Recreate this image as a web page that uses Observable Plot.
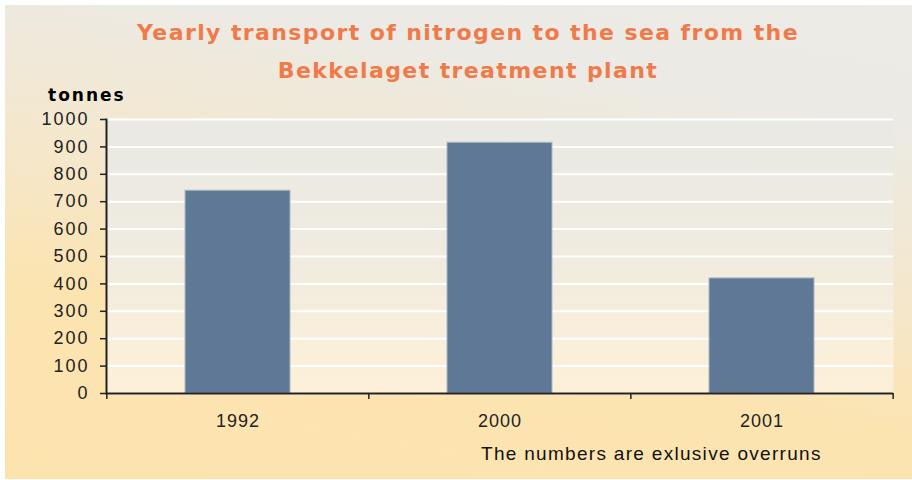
<!DOCTYPE html>
<html>
<head>
<meta charset="utf-8">
<script src="https://cdn.jsdelivr.net/npm/d3@7"></script>
<script src="https://cdn.jsdelivr.net/npm/@observablehq/plot@0.6"></script>
<style>
  html, body { margin: 0; padding: 0; background: #fff; }
  #wrap { position: relative; width: 912px; height: 480px; background: #fff; overflow: hidden; }
  #panel { position: absolute; left: 5px; top: 5px; width: 907px; height: 474px;
    background: linear-gradient(190deg, #EDEBE6 0%, #ECEAE4 20%, #F5E7CA 48%, #FCE4B1 68%, #FDE3AE 100%); }
  #title { position: absolute; left: 12px; top: 14px; width: 912px; text-align: center;
    font-family: "DejaVu Sans", Verdana, sans-serif; font-weight: bold; font-size: 22px; line-height: 38px;
    color: #F07A4A; letter-spacing: 1.4px; }
  #unit { position: absolute; left: 48px; top: 87px; font-family: "DejaVu Sans", Verdana, sans-serif;
    font-weight: bold; font-size: 17px; line-height: 16px; color: #000; letter-spacing: 2px; }
  #caption { position: absolute; left: 481px; top: 445px; font-family: "Liberation Sans", Arial, sans-serif;
    font-size: 19px; line-height: 18px; color: #111; letter-spacing: 1.3px; white-space: nowrap; }
  #chart { position: absolute; left: 0; top: 0; }
  #chart svg [aria-label="y-axis tick label"] text { letter-spacing: 2px; }
  #chart svg [aria-label="x-axis tick label"] text { letter-spacing: 1px; }
</style>
</head>
<body>
<div id="wrap">
  <div id="panel"></div>
  <div id="chart"></div>
  <div id="title"></div>
  <div id="unit"></div>
  <div id="caption"></div>
</div>
<script>
// ---- data ----
const titleLines = ["Yearly transport of nitrogen to the sea from the", "Bekkelaget treatment plant"];
const unitLabel = "tonnes";
const captionText = "The numbers are exlusive overruns";
const years = ["1992", "2000", "2001"];
const tonnes = [740, 915, 420];
const yTicks = [0, 100, 200, 300, 400, 500, 600, 700, 800, 900, 1000];

const data = years.map((year, i) => ({year, tonnes: tonnes[i]}));

document.getElementById("title").innerHTML = titleLines.join("<br>");
document.getElementById("unit").textContent = unitLabel;
document.getElementById("caption").textContent = captionText;

const W = 912, H = 480;
const mL = 106, mR = 19, mT = 119, mB = 87;
const step = (W - mL - mR) / years.length;
const axisColor = "#222";

const chart = Plot.plot({
  width: W,
  height: H,
  marginLeft: mL,
  marginRight: mR,
  marginTop: mT,
  marginBottom: mB,
  style: {background: "transparent", fontFamily: "'Liberation Sans', Arial, sans-serif", fontSize: "18px", color: "#222", overflow: "visible"},
  x: {domain: years, paddingInner: 0.6, paddingOuter: 0.3, label: null},
  y: {domain: [0, 1000], label: null},
  marks: [
    Plot.frame({fill: "url(#plotBg)", stroke: "none"}),
    Plot.gridY(yTicks, {stroke: "#fff", strokeOpacity: 1, strokeWidth: 2}),
    Plot.barY(data, {x: "year", y: "tonnes", fill: "#5F7896", stroke: "#AAB7C5", strokeWidth: 1}),
    Plot.axisY({ticks: yTicks, tickFormat: d3.format("d"), tickSize: 6, tickPadding: 11, stroke: axisColor, strokeWidth: 1.5, label: null}),
    Plot.axisX({tickSize: 0, tickPadding: 21, label: null}),
    Plot.ruleX(years, {dx: -step / 2, insetTop: H - mT - mB, insetBottom: -6, stroke: axisColor, strokeWidth: 1.5}),
    Plot.ruleX(years.slice(-1), {dx: step / 2, insetTop: H - mT - mB, insetBottom: -6, stroke: axisColor, strokeWidth: 1.5}),
    Plot.ruleY([0], {stroke: axisColor, strokeWidth: 2}),
    Plot.frame({anchor: "left", stroke: axisColor, strokeWidth: 2})
  ]
});

const svg = d3.select(chart);
const defs = svg.insert("defs", ":first-child");
const g = defs.append("linearGradient").attr("id", "plotBg")
  .attr("x1", 0).attr("y1", 0).attr("x2", 0).attr("y2", 1);
g.append("stop").attr("offset", "0%").attr("stop-color", "#E9E9E3");
g.append("stop").attr("offset", "45%").attr("stop-color", "#EFEBE0");
g.append("stop").attr("offset", "100%").attr("stop-color", "#FEF0D7");

document.getElementById("chart").appendChild(chart);
</script>
</body>
</html>
